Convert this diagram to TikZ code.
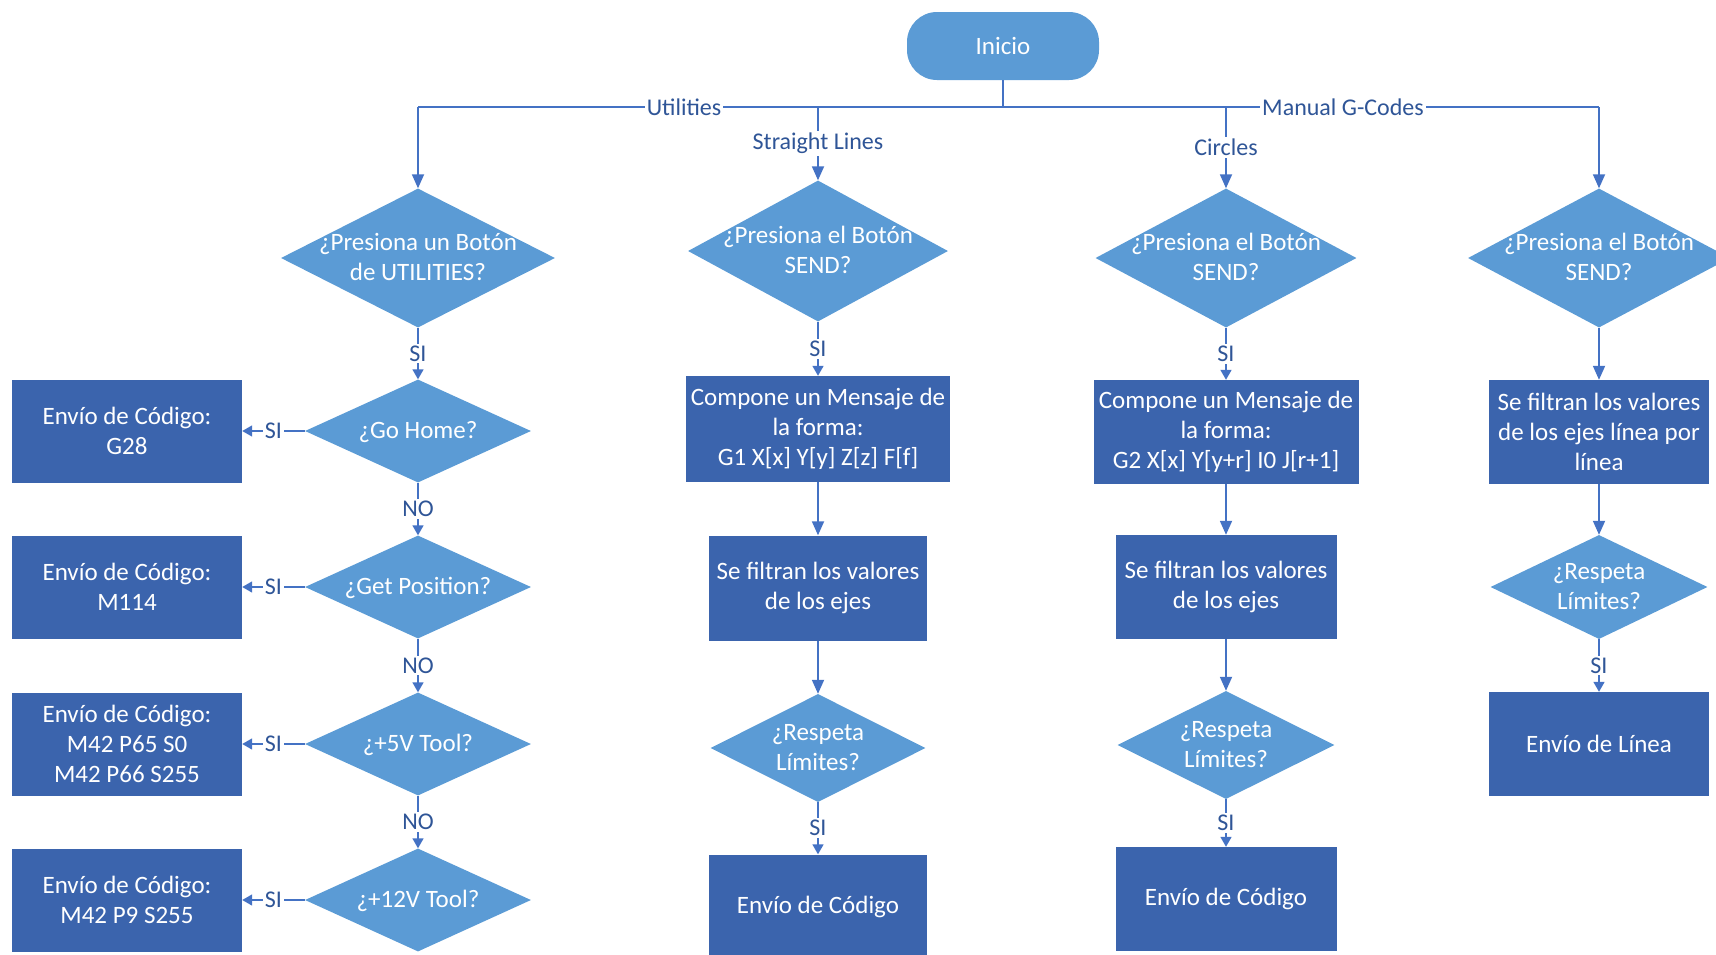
\documentclass[tikz,border=0pt]{standalone}
\usepackage{fontspec}
\setmainfont{Carlito}
\usetikzlibrary{shapes.geometric,arrows.meta}

\definecolor{boxblue}{HTML}{3B64AD}
\definecolor{decblue}{HTML}{5B9BD5}
\definecolor{linkblue}{HTML}{4472C4}
\definecolor{labblue}{HTML}{2F5597}

% centred multi-line text of zero size, so the diamond keeps its given size
\newcommand\dtxt[1]{\makebox[0pt]{\raisebox{-0.32em}[0pt][0pt]{\begin{tabular}{@{}c@{}}#1\end{tabular}}}}

\tikzset{
  x=1pt, y=-1pt,
  every node/.style={font=\fontsize{25}{30}\selectfont},
  procbox/.style={rectangle, fill=boxblue, text=white, align=center, inner sep=0pt},
  decision/.style={diamond, fill=decblue, text=white, inner sep=0pt},
  startbox/.style={rectangle, rounded corners=30pt, fill=decblue, text=white,
                   minimum width=192pt, minimum height=68pt},
  flow/.style={draw=linkblue, line width=1.8pt, -{Triangle[width=12pt,length=14pt]}},
  tagflow/.style={draw=linkblue, line width=1.6pt, -{Triangle[width=11pt,length=10pt]}},
  wire/.style={draw=linkblue, line width=1.8pt},
  lab/.style={fill=white, text=labblue, inner sep=2pt, font=\fontsize{24}{28}\selectfont},
}

\begin{document}
\begin{tikzpicture}
\useasboundingbox (0,0) rectangle (1716,954);
\clip (0,0) rectangle (1716,954);

% start
\node[startbox] (inicio) at (1003,46) {Inicio};

% column 1: utilities
\node[decision, minimum width=274pt, minimum height=139pt] (u0) at (418,258) {\dtxt{¿Presiona un Botón\\de UTILITIES?}};
\node[decision, minimum width=226pt, minimum height=103pt] (u1) at (418,431) {\dtxt{¿Go Home?}};
\node[decision, minimum width=226pt, minimum height=103pt] (u2) at (418,587) {\dtxt{¿Get Position?}};
\node[decision, minimum width=226pt, minimum height=103pt] (u3) at (418,744) {\dtxt{¿+5V Tool?}};
\node[decision, minimum width=226pt, minimum height=103pt] (u4) at (418,900) {\dtxt{¿+12V Tool?}};
\node[procbox, minimum width=230pt, minimum height=103pt] (c1) at (127,431) {Envío de Código:\\G28};
\node[procbox, minimum width=230pt, minimum height=103pt] (c2) at (127,587) {Envío de Código:\\M114};
\node[procbox, minimum width=230pt, minimum height=103pt] (c3) at (127,744) {Envío de Código:\\M42 P65 S0\\M42 P66 S255};
\node[procbox, minimum width=230pt, minimum height=103pt] (c4) at (127,900) {Envío de Código:\\M42 P9 S255};

% column 2: straight lines
\node[decision, minimum width=260pt, minimum height=141pt] (s0) at (818,251) {\dtxt{¿Presiona el Botón\\SEND?}};
\node[procbox, minimum width=264pt, minimum height=106pt] (s1) at (818,429) {Compone un Mensaje de\\la forma:\\G1 X[x] Y[y] Z[z] F[f]};
\node[procbox, minimum width=218pt, minimum height=105pt] (s2) at (818,588) {Se filtran los valores\\de los ejes};
\node[decision, minimum width=215pt, minimum height=108pt] (s3) at (818,748) {\dtxt{¿Respeta\\Límites?}};
\node[procbox, minimum width=218pt, minimum height=105pt] (s4) at (818,907) {Envío de Código};

% column 3: circles
\node[decision, minimum width=261pt, minimum height=139pt] (k0) at (1226,258) {\dtxt{¿Presiona el Botón\\SEND?}};
\node[procbox, minimum width=265pt, minimum height=104pt] (k1) at (1226,432) {Compone un Mensaje de\\la forma:\\G2 X[x] Y[y+r] I0 J[r+1]};
\node[procbox, minimum width=221pt, minimum height=104pt] (k2) at (1226,587) {Se filtran los valores\\de los ejes};
\node[decision, minimum width=217pt, minimum height=108pt] (k3) at (1226,745) {\dtxt{¿Respeta\\Límites?}};
\node[procbox, minimum width=221pt, minimum height=104pt] (k4) at (1226,899) {Envío de Código};

% column 4: manual G-codes
\node[decision, minimum width=262pt, minimum height=139pt] (m0) at (1599,258) {\dtxt{¿Presiona el Botón\\SEND?}};
\node[procbox, minimum width=220pt, minimum height=104pt] (m1) at (1599,432) {Se filtran los valores\\de los ejes línea por\\línea};
\node[decision, minimum width=217pt, minimum height=104pt] (m2) at (1599,587) {\dtxt{¿Respeta\\Límites?}};
\node[procbox, minimum width=220pt, minimum height=104pt] (m3) at (1599,744) {Envío de Línea};

% distribution bus below the start node
\coordinate (busL) at (418,107);
\coordinate (busR) at (1599,107);
\draw[wire] (inicio.south) -- (inicio.south |- busL);
\draw[wire] (busL) -- (busR);
\node[lab] (lutil) at (684,107) {Utilities};
\node[lab] (lman) at (1343,107) {Manual G-Codes};

\draw[flow] (busL) -- (u0.north);
\draw[flow] (busR) -- (m0.north);
\draw[flow] (s0.north |- busL) -- node[lab] {Straight Lines} (s0.north);
\draw[flow] (k0.north |- busL) -- node[lab] {Circles} (k0.north);

% column 1 links
\draw[tagflow] (u0.south) -- node[lab] {SI} (u1.north);
\draw[tagflow] (u1.south) -- node[lab] {NO} (u2.north);
\draw[tagflow] (u2.south) -- node[lab] {NO} (u3.north);
\draw[tagflow] (u3.south) -- node[lab] {NO} (u4.north);
\draw[tagflow] (u1.west) -- node[lab] {SI} (c1.east);
\draw[tagflow] (u2.west) -- node[lab] {SI} (c2.east);
\draw[tagflow] (u3.west) -- node[lab] {SI} (c3.east);
\draw[tagflow] (u4.west) -- node[lab] {SI} (c4.east);

% column 2 links
\draw[tagflow] (s0.south) -- node[lab] {SI} (s1.north);
\draw[flow] (s1) -- (s2);
\draw[flow] (s2) -- (s3);
\draw[tagflow] (s3.south) -- node[lab] {SI} (s4.north);

% column 3 links
\draw[tagflow] (k0.south) -- node[lab] {SI} (k1.north);
\draw[flow] (k1) -- (k2);
\draw[flow] (k2) -- (k3);
\draw[tagflow] (k3.south) -- node[lab] {SI} (k4.north);

% column 4 links
\draw[flow] (m0) -- (m1);
\draw[flow] (m1) -- (m2);
\draw[tagflow] (m2.south) -- node[lab] {SI} (m3.north);
\end{tikzpicture}
\end{document}
